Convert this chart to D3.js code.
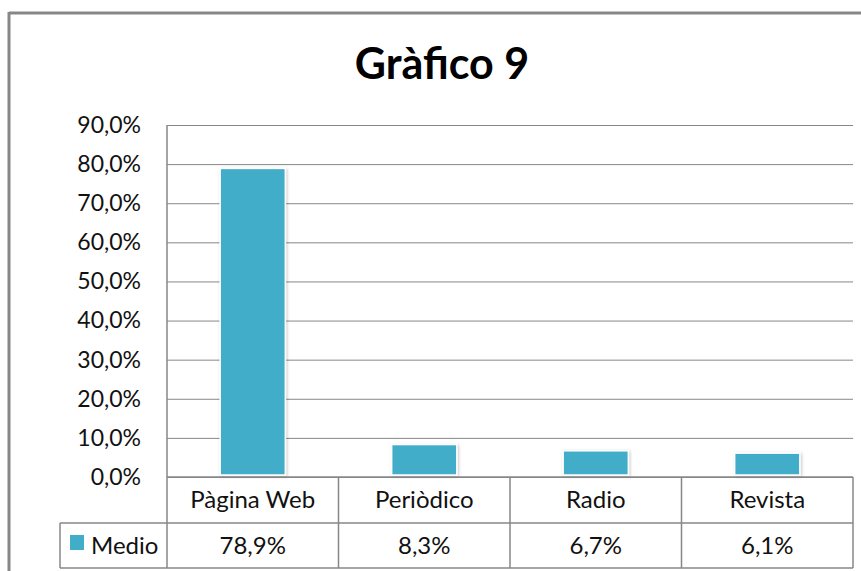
<!DOCTYPE html>
<html>
<head>
<meta charset="utf-8">
<script src="https://cdn.jsdelivr.net/npm/d3@7"></script>
<style>
  body { margin: 0; background: #fff; }
  svg { display: block; font-family: Lato, "Open Sans", sans-serif; }
</style>
</head>
<body>
<div id="chart"></div>
<script>
// chart data
var title = 'Gràfico 9';
var seriesName = 'Medio';
var categories = ['Pàgina Web', 'Periòdico', 'Radio', 'Revista'];
var values = [0.789, 0.083, 0.067, 0.061];
var valueLabels = ['78,9%', '8,3%', '6,7%', '6,1%'];
var yTicks = [0, 0.1, 0.2, 0.3, 0.4, 0.5, 0.6, 0.7, 0.8, 0.9];

var fullWidth = 861, fullHeight = 571;
var plot = {left: 167, right: 853, top: 125, bottom: 477};
var rowH = [477, 523, 568];   // table rows: category row, value row
var legendLeft = 60;
var barColor = '#42adc8';
var lineColor = '#878787';

var svg = d3.select('#chart').append('svg')
  .attr('width', fullWidth)
  .attr('height', fullHeight);

// soft shadow behind the bars
var defs = svg.append('defs');
var filter = defs.append('filter').attr('id', 'shadow')
  .attr('x', '-20%').attr('y', '-20%').attr('width', '140%').attr('height', '140%');
filter.append('feDropShadow')
  .attr('dx', 1).attr('dy', 1).attr('stdDeviation', 1.6)
  .attr('flood-color', '#000').attr('flood-opacity', 0.25);

// chart area border (only top and left visible)
svg.append('line').attr('x1', 9).attr('x2', fullWidth).attr('y1', 13).attr('y2', 13)
  .attr('stroke', lineColor).attr('stroke-width', 3);
svg.append('line').attr('x1', 9).attr('x2', 9).attr('y1', 12).attr('y2', fullHeight)
  .attr('stroke', lineColor).attr('stroke-width', 3);

svg.append('text')
  .attr('x', 442).attr('y', 79)
  .attr('text-anchor', 'middle')
  .style('font-size', '43px')
  .style('font-weight', 'bold')
  .text(title);

var x = d3.scaleBand().domain(categories)
  .range([plot.left, plot.right])
  .paddingInner(0.62).paddingOuter(0.31);

var y = d3.scaleLinear().domain([0, 0.9]).range([plot.bottom, plot.top]);

var fmt = function(d) { return d3.format('.1f')(d * 100).replace('.', ',') + '%'; };

// y axis with gridlines
var yAxis = d3.axisLeft(y).tickValues(yTicks).tickFormat(fmt)
  .tickSize(-(plot.right - plot.left)).tickPadding(26);
var gy = svg.append('g').attr('transform', 'translate(' + plot.left + ',0)').call(yAxis);
gy.select('.domain').remove();
gy.selectAll('.tick line').attr('stroke', lineColor).attr('stroke-width', 1);
gy.selectAll('.tick text').attr('fill', '#111').style('font-size', '23px').style('font-family', 'Lato, sans-serif');

svg.append('line')
  .attr('x1', plot.left).attr('x2', plot.left)
  .attr('y1', plot.top).attr('y2', rowH[2])
  .attr('stroke', lineColor).attr('stroke-width', 1.5);

// bars
svg.append('g').selectAll('rect.bar')
  .data(values)
  .enter()
  .append('rect')
  .classed('bar', true)
  .attr('x', function(d, i) { return x(categories[i]); })
  .attr('width', x.bandwidth())
  .attr('y', function(d) { return y(d); })
  .attr('height', function(d) { return y(0) - y(d) - 2; })
  .attr('fill', barColor)
  .attr('stroke', '#fff')
  .attr('stroke-width', 1.5)
  .attr('filter', 'url(#shadow)');

// data table
var table = svg.append('g');
table.append('line').attr('x1', plot.left).attr('x2', plot.right).attr('y1', rowH[0]).attr('y2', rowH[0])
  .attr('stroke', lineColor).attr('stroke-width', 1.5);
table.append('line').attr('x1', legendLeft).attr('x2', plot.right).attr('y1', rowH[1]).attr('y2', rowH[1])
  .attr('stroke', lineColor).attr('stroke-width', 1.5);
table.append('line').attr('x1', legendLeft).attr('x2', plot.right).attr('y1', rowH[2]).attr('y2', rowH[2])
  .attr('stroke', lineColor).attr('stroke-width', 1.5);
table.append('line').attr('x1', legendLeft).attr('x2', legendLeft).attr('y1', rowH[1]).attr('y2', rowH[2])
  .attr('stroke', lineColor).attr('stroke-width', 1.5);

var step = x.step();
table.selectAll('line.col')
  .data(categories)
  .enter()
  .append('line')
  .classed('col', true)
  .attr('x1', function(d) { return x(d) + x.bandwidth() / 2 + step / 2; })
  .attr('x2', function(d) { return x(d) + x.bandwidth() / 2 + step / 2; })
  .attr('y1', rowH[0]).attr('y2', rowH[2])
  .attr('stroke', lineColor).attr('stroke-width', 1.5);

table.selectAll('text.cat')
  .data(categories)
  .enter()
  .append('text')
  .classed('cat', true)
  .attr('x', function(d) { return x(d) + x.bandwidth() / 2; })
  .attr('y', 508)
  .attr('text-anchor', 'middle')
  .attr('fill', '#111')
  .style('font-size', '24px')
  .text(function(d) { return d; });

table.selectAll('text.val')
  .data(valueLabels)
  .enter()
  .append('text')
  .classed('val', true)
  .attr('x', function(d, i) { return x(categories[i]) + x.bandwidth() / 2; })
  .attr('y', 554)
  .attr('text-anchor', 'middle')
  .attr('fill', '#111')
  .style('font-size', '24px')
  .text(function(d) { return d; });

// legend key
table.append('rect').attr('x', 70).attr('y', 535).attr('width', 14).attr('height', 15).attr('fill', barColor);
table.append('text').attr('x', 91).attr('y', 554).attr('fill', '#111').style('font-size', '24px').text(seriesName);
</script>
</body>
</html>
